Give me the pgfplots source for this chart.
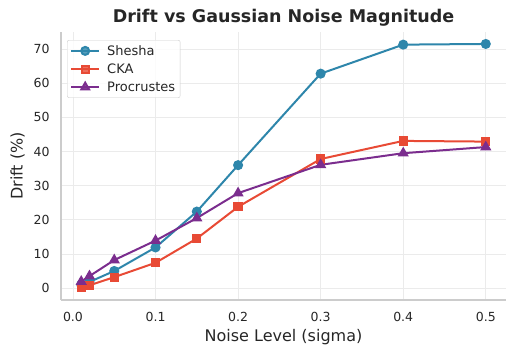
\documentclass[border=0pt]{standalone}
\usepackage{pgfplots}
\pgfplotsset{compat=1.18}
\usepackage{fontspec}
\setmainfont{DejaVu Sans}
\definecolor{cShesha}{HTML}{2E86AB}
\definecolor{cCKA}{HTML}{E84A35}
\definecolor{cProc}{HTML}{7B2D8E}
\definecolor{gridc}{HTML}{EBEBEB}
\definecolor{spinec}{HTML}{CCCCCC}
\definecolor{txt}{HTML}{262626}

\begin{document}
\begin{tikzpicture}[x=1pt,y=1pt]
\useasboundingbox (-61,-57) rectangle (455,300);
\begin{axis}[
  at={(0,0)}, anchor=south west,
  scale only axis, width=445pt, height=268pt,
  xmin=-0.0145, xmax=0.5245,
  ymin=-3.5, ymax=75,
  xtick={0,0.1,0.2,0.3,0.4,0.5},
  ytick={0,10,20,30,40,50,60,70},
  xticklabel style={/pgf/number format/fixed, /pgf/number format/fixed zerofill, /pgf/number format/precision=1, yshift=-9pt},
  yticklabel style={xshift=-8pt},
  /pgf/number format/assume math mode=true,
  axis x line*=bottom, axis y line*=left,
  axis line style={draw=spinec, line width=1.2pt},
  major tick length=0pt,
  grid=major,
  grid style={draw=gridc, line width=0.8pt},
  tick label style={font=\fontsize{12.5}{15}\selectfont, text=txt},
  xlabel={Noise Level (sigma)},
  ylabel={Drift (\%)},
  label style={font=\fontsize{16}{18}\selectfont, text=txt},
  xlabel style={at={(axis description cs:0.5,0)}, anchor=center, yshift=-37.5pt},
  ylabel style={at={(axis description cs:-0.0978,0.5)}, anchor=center, rotate=0},
  title={\bfseries Drift vs Gaussian Noise Magnitude},
  title style={font=\fontsize{17.5}{20}\selectfont, text=txt, at={(axis description cs:0.5,1)}, anchor=base, yshift=4pt},
  legend style={
    at={(axis description cs:0,1)}, xshift=6pt, yshift=-8pt, anchor=north west,
    font=\fontsize{13}{15}\selectfont, text=txt,
    cells={anchor=west},
    draw=spinec, fill=white, fill opacity=0.8, text opacity=1,
    rounded corners=2pt, inner sep=3pt,
    row sep=3pt, column sep=5pt,
  },
  legend image code/.code={\draw[mark repeat=2, mark phase=2] plot coordinates {(0pt,0pt) (14pt,0pt) (28pt,0pt)};},
  every axis plot/.append style={line width=2pt, mark size=4pt},
]
\addplot[color=cShesha, mark=*] coordinates {
  (0.01,1.0) (0.02,1.8) (0.05,5.0) (0.1,11.9) (0.15,22.4) (0.2,36.0) (0.3,62.8) (0.4,71.3) (0.5,71.5)
};
\addplot[color=cCKA, mark=square*, mark size=3.6pt] coordinates {
  (0.01,0.1) (0.02,0.8) (0.05,3.2) (0.1,7.4) (0.15,14.5) (0.2,23.8) (0.3,37.8) (0.4,43.1) (0.5,42.9)
};
\addplot[color=cProc, mark=triangle*, mark size=4.5pt] coordinates {
  (0.01,1.9) (0.02,3.5) (0.05,8.2) (0.1,13.9) (0.15,20.5) (0.2,27.8) (0.3,36.1) (0.4,39.5) (0.5,41.3)
};
\legend{Shesha, CKA, Procrustes}
\end{axis}
\end{tikzpicture}
\end{document}
